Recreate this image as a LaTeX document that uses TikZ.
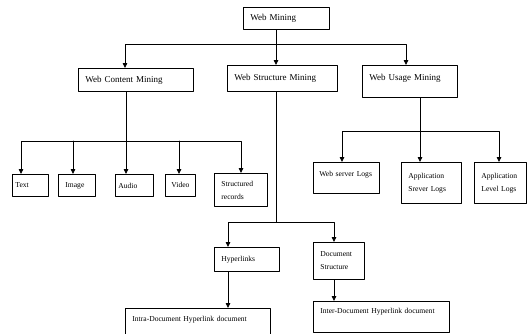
\documentclass[tikz,border=0pt]{standalone}
\usepackage{fontspec}
\setmainfont{Liberation Serif}
\usetikzlibrary{arrows.meta}

\begin{document}
\begin{tikzpicture}[x=1pt, y=-1pt, line cap=round, line join=round]
  \tikzset{
    box/.style={draw=black, line width=0.8pt, anchor=north west, inner xsep=7pt, inner ysep=3pt, align=left},
    big/.style={font=\fontsize{9pt}{11pt}\selectfont},
    small/.style={font=\fontsize{7.6pt}{13pt}\selectfont},
    link/.style={line width=0.8pt, draw=black},
    arr/.style={link, -{Triangle[length=5pt, width=4.5pt]}}
  }
  \useasboundingbox (0,0) rectangle (527,333);

  % Root
  \node[box, big, text width=72pt, minimum height=22pt] (wm) at (243,7) {Web Mining};

  % Three kinds of web mining
  \node[box, big, text width=101pt, minimum height=23pt] (wcm) at (78,68) {Web Content Mining};
  \node[box, big, text width=96pt, minimum height=26pt] (wsm) at (227,65) {Web Structure Mining};
  \node[box, big, text width=81pt, text height=12pt, text depth=14pt] (wum) at (362,65) {Web Usage Mining};

  % Content mining leaves
  \node[box, small, inner xsep=3pt, text width=30pt, minimum height=22pt] (txt) at (12,174) {Text};
  \node[box, small, text width=23pt, minimum height=22pt] (img) at (58,174) {Image};
  \node[box, small, inner xsep=3pt, text width=32pt, minimum height=22pt] (aud) at (115,174) {Audio};
  \node[box, small, inner xsep=6pt, text width=18pt, minimum height=22pt] (vid) at (165,174) {Video};
  \node[box, small, text width=39pt, minimum height=33pt] (srec) at (214,173) {Structured\\records};

  % Usage mining leaves
  \node[box, small, inner xsep=6pt, text width=54pt, text height=11pt, text depth=14pt] (wsl) at (313,162) {Web server Logs};
  \node[box, small, text width=46pt, minimum height=41pt] (asl) at (401,162) {Application\\Srever Logs};
  \node[box, small, text width=38pt, minimum height=41pt] (alog) at (474,162) {Application\\Level Logs};

  % Structure mining leaves
  \node[box, small, text width=51pt, minimum height=24pt] (hyp) at (214,247) {Hyperlinks};
  \node[box, small, text width=37pt, minimum height=37pt] (dstr) at (313,242) {Document\\Structure};
  \node[box, small, text width=131pt, text height=10pt, text depth=12pt] (intra) at (125,308) {Intra-Document Hyperlink document};
  \node[box, small, text width=122pt, text height=9pt, text depth=16pt] (inter) at (313,301) {Inter-Document Hyperlink document};

  % Junctions
  \coordinate (j1L) at (125,44);
  \coordinate (j1M) at (276,44);
  \coordinate (j1R) at (406,44);

  \coordinate (j2) at (126,141);
  \coordinate (d2a) at (21,141);
  \coordinate (d2b) at (73,141);
  \coordinate (d2d) at (179,141);
  \coordinate (d2e) at (241,141);

  \coordinate (j3) at (420,131);
  \coordinate (d3a) at (342,131);
  \coordinate (d3c) at (499,131);

  \coordinate (j4) at (276,222);
  \coordinate (d4a) at (228,222);
  \coordinate (d4b) at (334,222);

  % Root to the three kinds
  \draw[arr] (wm.south -| j1M) -- (j1M) -| (wcm.north -| j1L);
  \draw[arr] (j1M) -| (wum.north -| j1R);
  \draw[arr] (j1M) -- (wsm.north -| j1M);

  % Content mining
  \draw[arr] (wcm.south -| j2) -- (aud.north -| j2);
  \draw[arr] (j2) -| (txt.north -| d2a);
  \draw[arr] (d2b) -- (img.north -| d2b);
  \draw[arr] (j2) -| (srec.north -| d2e);
  \draw[arr] (d2d) -- (vid.north -| d2d);

  % Usage mining
  \draw[arr] (wum.south -| j3) -- (asl.north -| j3);
  \draw[arr] (j3) -| (wsl.north -| d3a);
  \draw[arr] (j3) -| (alog.north -| d3c);

  % Structure mining
  \draw[link] (wsm.south -| j4) -- (j4);
  \draw[arr] (j4) -| (hyp.north -| d4a);
  \draw[arr] (j4) -| (dstr.north -| d4b);
  \draw[arr] (hyp.south -| d4a) -- (intra.north -| d4a);
  \draw[arr] (dstr.south -| d4b) -- (inter.north -| d4b);

\end{tikzpicture}
\end{document}
